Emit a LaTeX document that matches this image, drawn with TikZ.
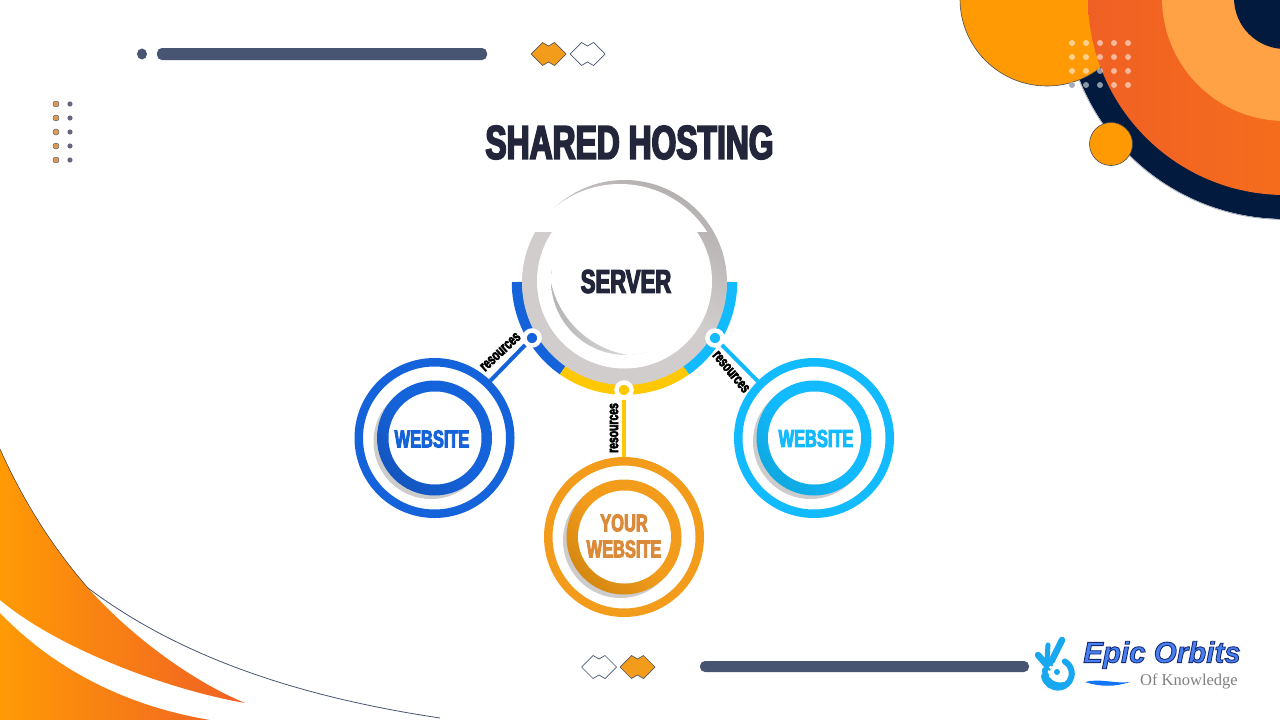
\documentclass[tikz,border=0pt]{standalone}
\usepackage{fontspec}
\setmainfont{Liberation Sans}
\newfontfamily\imp{Liberation Sans Bold}[FakeStretch=0.67,FakeBold=3.6]
\newfontfamily\logoserif{Liberation Serif}[FakeStretch=1.0]
\newfontfamily\logosans{Liberation Sans Bold Italic}[FakeBold=3]
\usetikzlibrary{calc}
\definecolor{ink}{HTML}{23263A}
\definecolor{slatebar}{HTML}{475572}
\definecolor{navy}{HTML}{021A3E}
\definecolor{amber}{HTML}{FF9A05}
\definecolor{redor}{HTML}{F06025}
\definecolor{redorb}{HTML}{FA7A12}
\definecolor{lightor}{HTML}{FFA245}
\definecolor{sblue}{HTML}{1563DA}
\definecolor{scyan}{HTML}{12BAFF}
\definecolor{sorange}{HTML}{F39C1C}
\definecolor{syellow}{HTML}{FFC800}
\definecolor{dblue}{HTML}{1355BE}
\definecolor{dcyan}{HTML}{10A8E0}
\definecolor{dorange}{HTML}{D58810}
\definecolor{yourtext}{HTML}{DB8A3A}
\definecolor{logocyan}{HTML}{18A8F0}
\definecolor{ringlow}{HTML}{D2CDCD}
\definecolor{ringhigh}{HTML}{B5B1B1}
\tikzset{
  x=1pt,y=-1pt,
  outerring/.style={circle,draw=#1,line width=8.5,fill=white,minimum size=151.5,inner sep=0},
  whitecore/.style={circle,fill=white,minimum size=93,inner sep=0},
  hub/.style={circle,fill=#1,draw=white,line width=4.5,minimum size=15,inner sep=0},
  link/.style={line width=4,draw=#1},
  reslabel/.style={inner sep=0,font=\imp\fontsize{15.5}{16}\selectfont,text=black},
  lbar/.style={fill=slatebar,rounded corners=5},
  sitetext/.style={inner sep=0,text=#1,align=center,font=\imp\fontsize{24.5}{26}\selectfont},
}
\newcommand{\sitebody}[5]{% name, x, y, colour, dark
  \fill[black!20] (#2-3.5,#3+3.5) circle (57.5);
  \shade[bottom color=#5,top color=#4,middle color=#4,shading angle=-45] (#2,#3) circle (57.5);
  \node[whitecore] (#1) at (#2+.5,#3) {};
}
\newcommand{\dbldiamond}[4]{% x, y, fill, draw
  \filldraw[fill=#3,draw=#4,line width=.7,line join=round] (#1-17.5,#2) -- (#1-6,#2-11.5) -- (#1,#2-8) -- (#1+6,#2-11.5) -- (#1+17.5,#2) -- (#1+6,#2+11.5) -- (#1,#2+8) -- (#1-6,#2+11.5) -- cycle;
}
\begin{document}
\begin{tikzpicture}
\useasboundingbox (0,0) rectangle (1280,720);
\clip (0,0) rectangle (1280,720);
\fill[white] (0,0) rectangle (1280,720);

% top right decoration
\fill[navy] (1285,-2) circle (221);
\draw[slatebar!50,line width=.8] (1285,-2) circle (221.5);
\filldraw[fill=amber,draw=black!70,line width=.6] (1047,-1) circle (87);
\shade[left color=redor,right color=redorb] (1285,-2) circle (197);
\fill[lightor] (1285,-2) circle (123);
\fill[navy] (1285,-2) circle (51);
\filldraw[fill=amber,draw=black!70,line width=.6] (1111,144) circle (21.5);
\foreach \px in {1072,1086,1100,1114,1128}
  \foreach \py in {43,57,71,85}
    \fill[white,opacity=.55] (\px,\py) circle (3);
\fill[slatebar!50] (1072,85) circle (3);

% bottom left decoration
\shade[left color=amber,right color=redor] (0,449) .. controls (25,505) and (55,550) .. (88,588) .. controls (130,635) and (190,680) .. (245,703) .. controls (170,690) and (60,650) .. (0,600) -- cycle;
\shade[left color=amber,right color=redor!85!amber] (0,613) .. controls (50,665) and (120,705) .. (210,720) -- (0,720) -- cycle;
\draw[black!75,line width=.5] (0,449) .. controls (25,505) and (55,550) .. (88,588);
\draw[slatebar,line width=.8] (88,588) .. controls (190,665) and (320,700) .. (440,718);

% top furniture
\fill[slatebar] (142,54) ellipse (5 and 5.5);
\fill[lbar] (157,48) rectangle (487,60);
\dbldiamond{548.5}{54}{sorange}{black!65}
\dbldiamond{587.5}{54}{white}{slatebar}
\foreach \py in {104,118,132,146,160}{
  \filldraw[fill=brown!70!orange!80,draw=black!60,line width=.5] (56,\py) circle (3);
  \fill[black!50!blue!20!gray] (70,\py) circle (2.6);
}

% bottom furniture
\fill[lbar] (700,661) rectangle (1029,672);
\dbldiamond{599}{667}{white}{slatebar}
\dbldiamond{637.5}{667}{sorange}{black!65}

% title
\node[inner sep=0,text=ink,font=\imp\fontsize{47.5}{50}\selectfont] (title) at (629.5,142.5) {SHARED HOSTING};

% server
\begin{scope}[shift={(624.5,282)}]
  \draw[sblue,line width=10.5] (180:107.5) arc (180:125:107.5);
  \draw[syellow,line width=10.5] (125:107.5) arc (125:55:107.5);
  \draw[scyan,line width=10.5] (55:107.5) arc (55:0:107.5);
\end{scope}
\shade[top color=ringhigh,bottom color=ringlow,middle color=ringlow,shading angle=-30] (624.5,282.5) circle (102.5);
\begin{scope}
  \clip (500,170) rectangle (750,231);
  \fill[white] (620,287) circle (103);
\end{scope}
\node[circle,fill=white,minimum size=175,inner sep=0] (serverdisc) at (624.5,281) {};
\begin{scope}
  \clip (626,280) circle (75);
  \shade[left color=black!30,right color=black!10] (548,270) rectangle (650,360);
  \fill[white] (643,261.7) circle (94.3);
\end{scope}
\node[inner sep=0,text=ink,font=\imp\fontsize{33}{34}\selectfont] (server) at (626,281.5) {SERVER};

% hubs
\node[hub=sblue] (hubA) at (532,338) {};
\node[hub=syellow] (hubB) at (624,390) {};
\node[hub=scyan] (hubC) at (715,338) {};

% websites
\node[outerring=sblue] (siteA) at (434.5,438) {};
\node[outerring=sorange] (siteB) at (624,537) {};
\node[outerring=scyan] (siteC) at (814,438) {};

% connectors
\draw[link=sblue] (hubA) -- (siteA);
\draw[link=syellow] (hubB) -- (siteB);
\draw[link=scyan] (hubC) -- (siteC);

\sitebody{coreA}{434.5}{438}{sblue}{dblue}
\sitebody{coreB}{624}{537}{sorange}{dorange}
\sitebody{coreC}{814}{438}{scyan}{dcyan}
\node[sitetext=sblue] (labelA) at (432,439) {WEBSITE};
\node[sitetext=yourtext] (labelB) at (624,536) {YOUR\\WEBSITE};
\node[sitetext=scyan] (labelC) at (816,438.5) {WEBSITE};

% resources labels
\node[reslabel,rotate=43] (resA) at (500.5,352) {resources};
\node[reslabel,rotate=90] (resB) at (614,428) {resources};
\node[reslabel,rotate=-50] (resC) at (731,372) {resources};

% logo
\begin{scope}[logocyan,line cap=round]
  \draw[line width=6.5] (1050,664) -- (1062,640);
  \draw[line width=5] (1047,660) -- (1048,645);
  \draw[line width=6.5] (1038,655) -- (1050,669);
  \draw[line width=6] (1044,676) arc (170:-60:14);
  \draw[line width=6] (1045,670) .. controls (1045,682) and (1055,687) .. (1064,685);
\end{scope}
\node[circle,fill=white,minimum size=14,inner sep=0] (gear) at (1057,672) {};
\fill[logocyan] (1057,672) circle (3);
\draw[white,line width=2.4,dash pattern=on 2.4 off 2.4] (1057,672) circle (8);
\node[inner sep=0,font=\logosans\fontsize{29.5}{30}\selectfont] (logoA) at (1162,655) {\special{pdf:bcolor [0.28 0.5 0.95] [0.09 0.16 0.45]}Epic Orbits\special{pdf:ecolor}};
\node[inner sep=0,text=black!50,font=\logoserif\fontsize{16.5}{17}\selectfont] (logoB) at (1189,681) {Of Knowledge};
\fill[logocyan!70!blue] (1085,682) .. controls (1100,678) and (1115,684) .. (1130,682) .. controls (1115,687) and (1100,687) .. (1085,682) -- cycle;
\end{tikzpicture}
\end{document}
